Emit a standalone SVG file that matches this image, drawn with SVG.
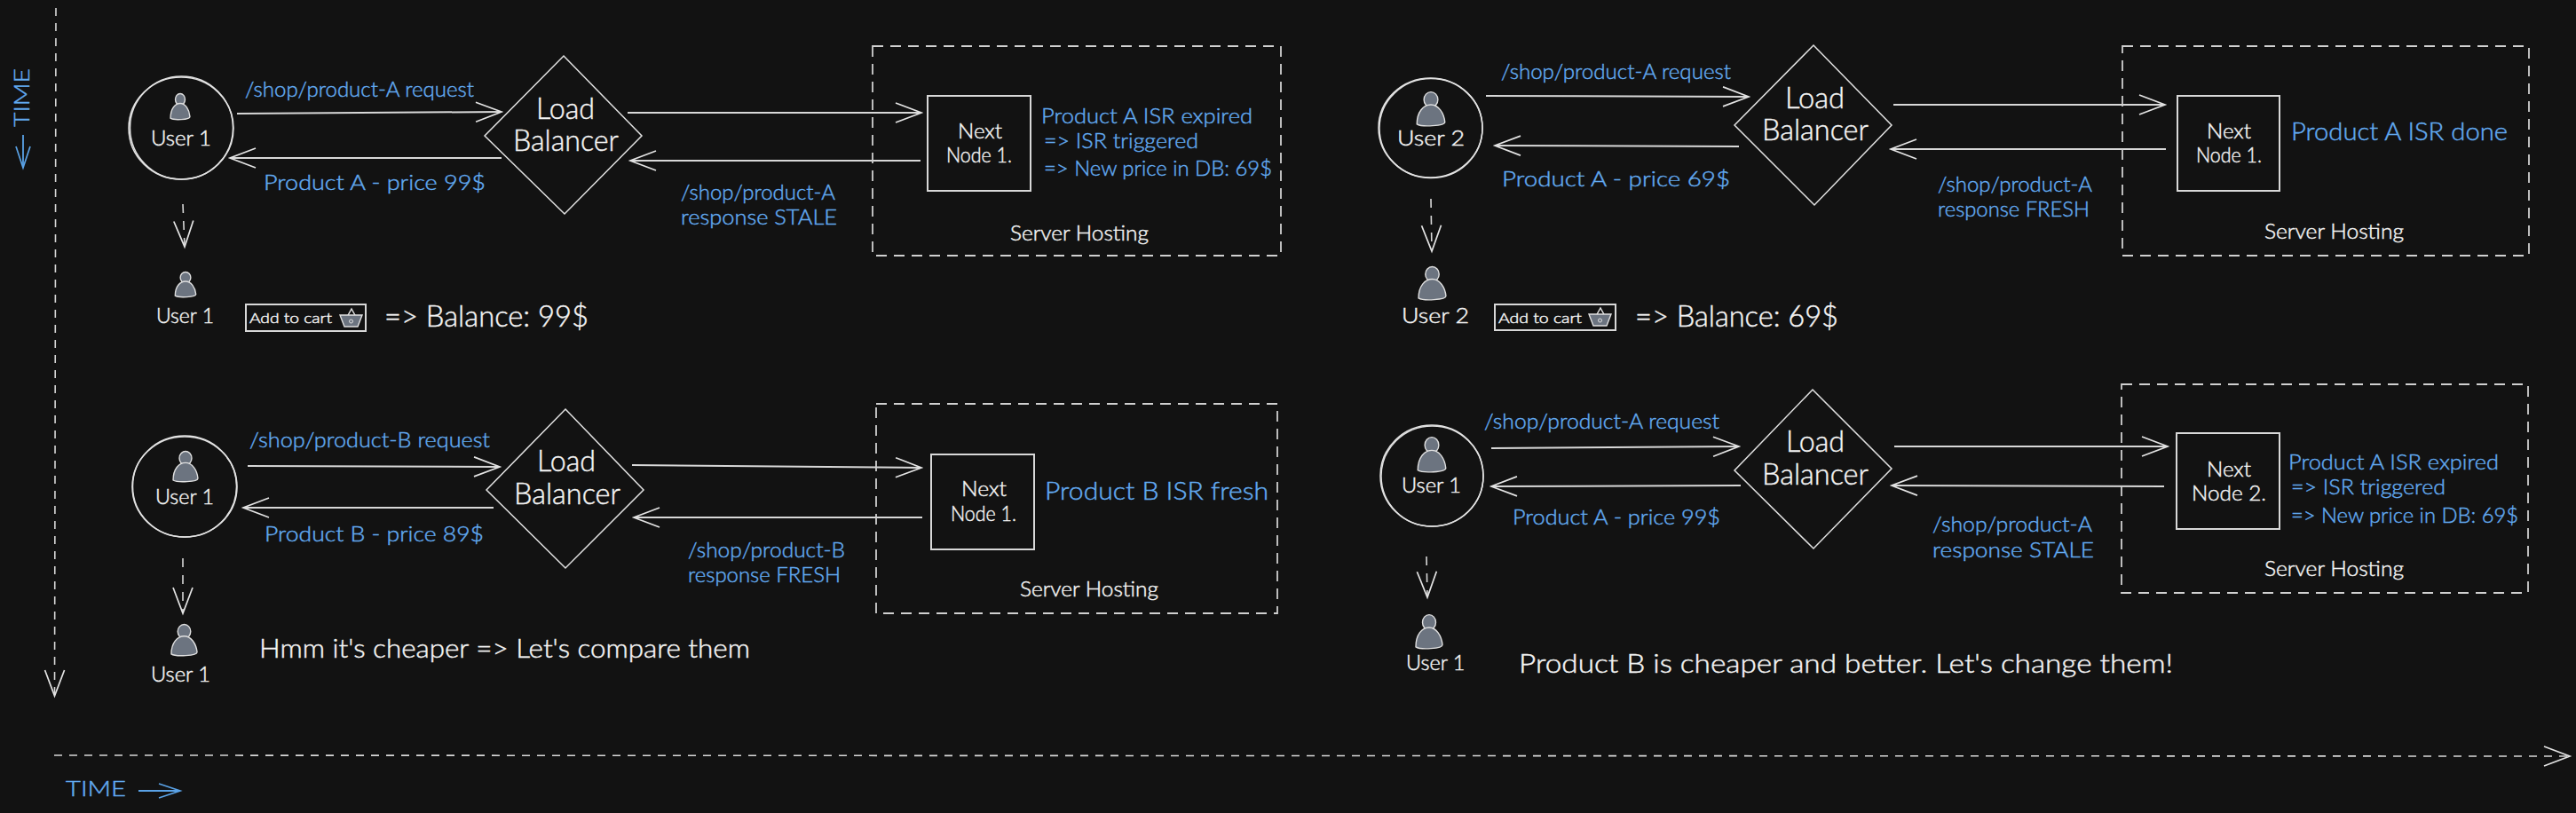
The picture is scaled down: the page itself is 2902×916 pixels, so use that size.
<svg xmlns="http://www.w3.org/2000/svg" xmlns:xlink="http://www.w3.org/1999/xlink" width="2902" height="916" viewBox="0 0 2902 916">
<style>
text{font-family:"Lato","Open Sans","Liberation Sans",sans-serif;font-weight:300;stroke-width:.45}
text:not(.rot){transform:translateY(1px)}
.w{fill:#f4f4f4;stroke:#f4f4f4}.b{fill:#62aaf0;stroke:#62aaf0}
.s15{font-size:16px}.s21{font-size:23px}.s22{font-size:24px}.s24{font-size:27px}.s26{font-size:29px}.s30{font-size:33px}
.line{fill:none;stroke:#d8d8d8;stroke-width:2}
.thin{fill:none;stroke:#e2e2e2;stroke-width:1.5}
.dash{fill:none;stroke:#d8d8d8;stroke-width:1.6;stroke-dasharray:9 8}
.box{fill:none;stroke:#d0d0d0;stroke-width:1.8;stroke-dasharray:12 8}
.ar{marker-end:url(#head)}
.art{stroke:#5aa2e6;fill:none;stroke-width:1.8;marker-end:url(#headb)}
.ico{fill:#6c7480;stroke:#e0e0e0;stroke-width:1.4;vector-effect:non-scaling-stroke}
</style>
<defs>
<marker id="head" markerUnits="userSpaceOnUse" markerWidth="40" markerHeight="30" refX="30" refY="15" orient="auto" overflow="visible"><path d="M1,4 L30,15 L1,26" fill="none" stroke="#e4e4e4" stroke-width="1.7"/></marker>
<marker id="headb" markerUnits="userSpaceOnUse" markerWidth="40" markerHeight="30" refX="30" refY="15" orient="auto" overflow="visible"><path d="M6,7 L30,15 L6,23" fill="none" stroke="#5aa2e6" stroke-width="1.7"/></marker>
<g id="person"><circle class="ico" cx="0" cy="8" r="7.5"/><path class="ico" d="M-15,32 C-15,20 -8,13 0,13 C8,13 14,21 15,30 C15,34 -10,35 -15,32Z"/></g>
<g id="basket"><path d="M8,9 L13,0 L18,9" class="thin"/><path class="ico" d="M0,7 L25,7 L20,20 L5,20Z"/><circle cx="12.500" cy="14" r="2" fill="none" stroke="#e0e0e0"/></g>
</defs>
<rect width="2902" height="916" fill="#121212"/>

<g id="timelines">
<path class="dash ar" d="M63,9 L61.500,784"/>
<path class="dash ar" d="M61,851 L2895,852"/>
<text class="b s22 rot" transform="translate(33,143) rotate(-90)" textLength="66" lengthAdjust="spacingAndGlyphs">TIME</text>
<path class="art" d="M26,152 L26,189"/>
<text class="b s21" x="74" y="896" textLength="68" lengthAdjust="spacingAndGlyphs">TIME</text>
<path class="art" d="M156,891 L203,891"/>
</g>

<g id="connectors">
<path class="line ar" d="M267,128 L565,126"/>
<path class="line ar" d="M565,178 L259,178"/>
<path class="line ar" d="M707,127 L1038,127"/>
<path class="line ar" d="M1037,181 L710,181"/>
<path class="dash ar" style="stroke-dasharray:10 9" d="M206,230 L208,278"/>
<path class="line ar" d="M1674,108 L1970,109"/>
<path class="line ar" d="M1959,165 L1684,164"/>
<path class="line ar" d="M2133,118 L2439,118"/>
<path class="line ar" d="M2440,168 L2130,168"/>
<path class="dash ar" style="stroke-dasharray:10 9" d="M1612,224 L1613,283"/>
<path class="line ar" d="M279,525 L563,526"/>
<path class="line ar" d="M556,572 L274,572"/>
<path class="line ar" d="M712,524 L1038,527"/>
<path class="line ar" d="M1039,583 L714,583"/>
<path class="dash ar" style="stroke-dasharray:10 9" d="M206,629 L206,691"/>
<path class="line ar" d="M1680,505 L1959,503"/>
<path class="line ar" d="M1961,547 L1680,548"/>
<path class="line ar" d="M2134,503 L2442,503"/>
<path class="line ar" d="M2438,548 L2131,547"/>
<path class="dash ar" style="stroke-dasharray:10 9" d="M1607,627 L1608,673"/>
</g>

<g id="connector-labels">
<text class="b s22" x="276" y="108" textLength="258" lengthAdjust="spacingAndGlyphs">/shop/product-A request</text>
<text class="b s22" x="297" y="213" textLength="250" lengthAdjust="spacingAndGlyphs">Product A - price 99$</text>
<text class="b s22" x="767" y="224" textLength="174" lengthAdjust="spacingAndGlyphs">/shop/product-A</text>
<text class="b s22" x="767" y="252" textLength="176" lengthAdjust="spacingAndGlyphs">response STALE</text>
<text class="b s22" x="1691" y="88" textLength="259" lengthAdjust="spacingAndGlyphs">/shop/product-A request</text>
<text class="b s22" x="1692" y="209" textLength="257" lengthAdjust="spacingAndGlyphs">Product A - price 69$</text>
<text class="b s22" x="2183" y="215" textLength="174" lengthAdjust="spacingAndGlyphs">/shop/product-A</text>
<text class="b s22" x="2183" y="243" textLength="171" lengthAdjust="spacingAndGlyphs">response FRESH</text>
<text class="b s22" x="281" y="503" textLength="271" lengthAdjust="spacingAndGlyphs">/shop/product-B request</text>
<text class="b s22" x="298" y="609" textLength="247" lengthAdjust="spacingAndGlyphs">Product B - price 89$</text>
<text class="b s22" x="775" y="627" textLength="177" lengthAdjust="spacingAndGlyphs">/shop/product-B</text>
<text class="b s22" x="775" y="655" textLength="172" lengthAdjust="spacingAndGlyphs">response FRESH</text>
<text class="b s22" x="1672" y="482" textLength="265" lengthAdjust="spacingAndGlyphs">/shop/product-A request</text>
<text class="b s22" x="1704" y="590" textLength="234" lengthAdjust="spacingAndGlyphs">Product A - price 99$</text>
<text class="b s22" x="2177" y="598" textLength="180" lengthAdjust="spacingAndGlyphs">/shop/product-A</text>
<text class="b s22" x="2177" y="627" textLength="182" lengthAdjust="spacingAndGlyphs">response STALE</text>
</g>

<g id="user-1a">
<ellipse class="thin" cx="204" cy="144.500" rx="59" ry="57.500"/><ellipse class="thin" cx="204.500" cy="144" rx="58" ry="58"/>
<use xlink:href="#person" href="#person" transform="translate(203,105) scale(.73,.88)"/>
<text class="w s21" x="170" y="163" textLength="68" lengthAdjust="spacingAndGlyphs">User 1</text>
</g>
<g id="lb-1">
<path class="thin" d="M635,63 L723,153 L636,241 L546,153 Z"/>
<text class="w s30" x="604" y="133" textLength="66" lengthAdjust="spacingAndGlyphs">Load</text>
<text class="w s30" x="578" y="169" textLength="119" lengthAdjust="spacingAndGlyphs">Balancer</text>
</g>
<g id="hosting-1">
<rect class="box" x="983" y="52" width="460" height="236"/>
<text class="w s21" x="1138" y="270" textLength="156" lengthAdjust="spacingAndGlyphs">Server Hosting</text>
</g>
<g id="node-1">
<rect class="line" x="1045" y="108" width="116" height="107"/>
<text class="w s22" x="1079" y="155" textLength="50" lengthAdjust="spacingAndGlyphs">Next</text>
<text class="w s22" x="1066" y="182" textLength="74" lengthAdjust="spacingAndGlyphs">Node 1.</text>
</g>
<g id="status-1">
<text class="b s22" x="1173" y="138" textLength="238" lengthAdjust="spacingAndGlyphs">Product A ISR expired</text>
<text class="b s22" x="1176" y="166" textLength="174" lengthAdjust="spacingAndGlyphs">=&gt; ISR triggered</text>
<text class="b s22" x="1176" y="197" textLength="257" lengthAdjust="spacingAndGlyphs">=&gt; New price in DB: 69$</text>
</g>
<g id="user-1b">
<use xlink:href="#person" href="#person" transform="translate(209,306) scale(.78,.85)"/>
<text class="w s21" x="176" y="363" textLength="65" lengthAdjust="spacingAndGlyphs">User 1</text>
</g>
<g id="cart-1">
<rect class="line" x="277" y="343" width="135" height="30"/>
<text class="w s15" x="281" y="363" textLength="93" lengthAdjust="spacingAndGlyphs">Add to cart</text>
<use xlink:href="#basket" href="#basket" x="383" y="348"/>
<text class="w s30" x="433" y="367" textLength="230" lengthAdjust="spacingAndGlyphs">=&gt; Balance: 99$</text>
</g>

<g id="user-2a">
<ellipse class="thin" cx="1611.500" cy="144" rx="58.500" ry="56"/><ellipse class="thin" cx="1612" cy="144.500" rx="58" ry="56"/>
<use xlink:href="#person" href="#person" transform="translate(1612,103) scale(1.05,1.15)"/>
<text class="w s21" x="1574" y="163" textLength="76" lengthAdjust="spacingAndGlyphs">User 2</text>
</g>
<g id="lb-2">
<path class="thin" d="M2043,51 L2131,141 L2044,231 L1954,141 Z"/>
<text class="w s30" x="2011" y="121" textLength="67" lengthAdjust="spacingAndGlyphs">Load</text>
<text class="w s30" x="1985" y="157" textLength="120" lengthAdjust="spacingAndGlyphs">Balancer</text>
</g>
<g id="hosting-2">
<rect class="box" x="2391" y="52" width="458" height="236"/>
<text class="w s21" x="2551" y="268" textLength="157" lengthAdjust="spacingAndGlyphs">Server Hosting</text>
</g>
<g id="node-2">
<rect class="line" x="2453" y="108" width="115" height="107"/>
<text class="w s22" x="2486" y="155" textLength="50" lengthAdjust="spacingAndGlyphs">Next</text>
<text class="w s22" x="2474" y="182" textLength="74" lengthAdjust="spacingAndGlyphs">Node 1.</text>
</g>
<g id="status-2">
<text class="b s24" x="2581" y="157" textLength="244" lengthAdjust="spacingAndGlyphs">Product A ISR done</text>
</g>
<g id="user-2b">
<use xlink:href="#person" href="#person" transform="translate(1613.500,300) scale(1.03,1.12)"/>
<text class="w s21" x="1579" y="363" textLength="76" lengthAdjust="spacingAndGlyphs">User 2</text>
</g>
<g id="cart-2">
<rect class="line" x="1684" y="343" width="136" height="29"/>
<text class="w s15" x="1688" y="363" textLength="94" lengthAdjust="spacingAndGlyphs">Add to cart</text>
<use xlink:href="#basket" href="#basket" x="1790" y="347"/>
<text class="w s30" x="1842" y="367" textLength="229" lengthAdjust="spacingAndGlyphs">=&gt; Balance: 69$</text>
</g>

<g id="user-3a">
<ellipse class="thin" cx="208" cy="548.500" rx="59" ry="56.500"/><ellipse class="thin" cx="208" cy="548" rx="58.500" ry="57"/>
<use xlink:href="#person" href="#person" transform="translate(209,508) scale(.93,1.03)"/>
<text class="w s21" x="175" y="567" textLength="66" lengthAdjust="spacingAndGlyphs">User 1</text>
</g>
<g id="lb-3">
<path class="thin" d="M637,461 L725,552 L637,640 L548,552 Z"/>
<text class="w s30" x="605" y="530" textLength="66" lengthAdjust="spacingAndGlyphs">Load</text>
<text class="w s30" x="579" y="567" textLength="120" lengthAdjust="spacingAndGlyphs">Balancer</text>
</g>
<g id="hosting-3">
<rect class="box" x="987" y="455" width="452" height="236"/>
<text class="w s21" x="1149" y="671" textLength="156" lengthAdjust="spacingAndGlyphs">Server Hosting</text>
</g>
<g id="node-3">
<rect class="line" x="1049" y="512" width="116" height="107"/>
<text class="w s22" x="1083" y="558" textLength="51" lengthAdjust="spacingAndGlyphs">Next</text>
<text class="w s22" x="1071" y="586" textLength="74" lengthAdjust="spacingAndGlyphs">Node 1.</text>
</g>
<g id="status-3">
<text class="b s24" x="1177" y="562" textLength="252" lengthAdjust="spacingAndGlyphs">Product B ISR fresh</text>
</g>
<g id="user-3b">
<use xlink:href="#person" href="#person" transform="translate(207.500,703) scale(.97,1.06)"/>
<text class="w s21" x="170" y="767" textLength="67" lengthAdjust="spacingAndGlyphs">User 1</text>
</g>
<g id="note-3">
<text class="w s26" x="292" y="740" textLength="553" lengthAdjust="spacingAndGlyphs">Hmm it's cheaper =&gt; Let's compare them</text>
</g>

<g id="user-4a">
<ellipse class="thin" cx="1613" cy="536" rx="58" ry="57"/><ellipse class="thin" cx="1613.500" cy="536.500" rx="57.500" ry="56.500"/>
<use xlink:href="#person" href="#person" transform="translate(1613,492) scale(1.05,1.18)"/>
<text class="w s21" x="1579" y="554" textLength="67" lengthAdjust="spacingAndGlyphs">User 1</text>
</g>
<g id="lb-4">
<path class="thin" d="M2042,439 L2131,528 L2043,618 L1954,530 Z"/>
<text class="w s30" x="2012" y="508" textLength="66" lengthAdjust="spacingAndGlyphs">Load</text>
<text class="w s30" x="1985" y="545" textLength="120" lengthAdjust="spacingAndGlyphs">Balancer</text>
</g>
<g id="hosting-4">
<rect class="box" x="2390" y="433" width="458" height="235"/>
<text class="w s21" x="2551" y="648" textLength="157" lengthAdjust="spacingAndGlyphs">Server Hosting</text>
</g>
<g id="node-4">
<rect class="line" x="2452" y="488" width="116" height="108"/>
<text class="w s22" x="2486" y="536" textLength="50" lengthAdjust="spacingAndGlyphs">Next</text>
<text class="w s22" x="2469" y="563" textLength="84" lengthAdjust="spacingAndGlyphs">Node 2.</text>
</g>
<g id="status-4">
<text class="b s22" x="2578" y="528" textLength="237" lengthAdjust="spacingAndGlyphs">Product A ISR expired</text>
<text class="b s22" x="2581" y="556" textLength="174" lengthAdjust="spacingAndGlyphs">=&gt; ISR triggered</text>
<text class="b s22" x="2581" y="588" textLength="256" lengthAdjust="spacingAndGlyphs">=&gt; New price in DB: 69$</text>
</g>
<g id="user-4b">
<use xlink:href="#person" href="#person" transform="translate(1610,692) scale(1,1.15)"/>
<text class="w s21" x="1584" y="754" textLength="66.500" lengthAdjust="spacingAndGlyphs">User 1</text>
</g>
<g id="note-4">
<text class="w s26" x="1711" y="757" textLength="737" lengthAdjust="spacingAndGlyphs">Product B is cheaper and better. Let's change them!</text>
</g>
</svg>
